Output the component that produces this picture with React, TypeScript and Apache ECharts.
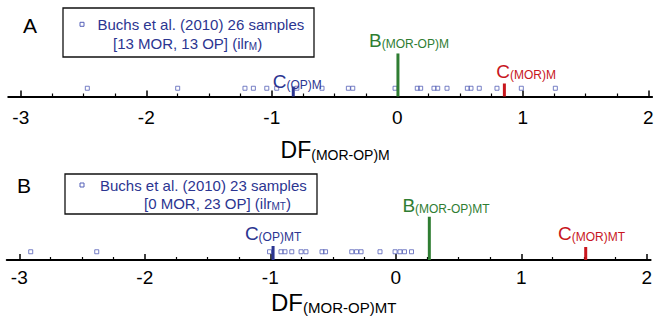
import React, { useEffect, useRef } from "react";
import * as echarts from "echarts";

const FONT = "'Liberation Sans', Arial, Helvetica, sans-serif";

// Axis range and ticks
const axisMin = -3.1;
const axisMax = 2.03;
const majorTicks = [-3, -2, -1, 0, 1, 2];
const minorTicks = [-2.75, -2.5, -2.25, -1.75, -1.5, -1.25, -0.75, -0.5, -0.25, 0.25, 0.5, 0.75, 1.25, 1.5, 1.75];

// Panel A: DF(MOR-OP)M, Buchs et al. (2010) samples
const samplesA = [-2.47, -1.75, -1.214, -1.147, -1.04, -0.961, -0.8, -0.6, -0.39, -0.355, -0.018, 0.159, 0.186, 0.292, 0.322, 0.396, 0.558, 0.587, 0.653, 0.794, 0.988, 1.259];
// centroids / boundary: C(OP)M, B(MOR-OP)M, C(MOR)M
const markersA = [-0.829, 0.005, 0.853];

// Panel B: DF(MOR-OP)MT
const samplesB = [-2.909, -2.383, -1.006, -0.915, -0.883, -0.829, -0.755, -0.716, -0.588, -0.56, -0.351, -0.313, -0.277, -0.126, -0.006, 0.033, 0.069, 0.125];
// C(OP)MT, B(MOR-OP)MT, C(MOR)MT
const markersB = [-0.978, 0.267, 1.513];

const BLUE = "#2b3591";
const POINT = "#5560b8";
const GREEN = "#2f7d32";
const RED = "#c8161d";

function markerSeries(
  gridIdx: number,
  x: number,
  h: number,
  color: string,
  main: string,
  sub: string,
  ox: number,
  oy: number
) {
  return {
    type: "line",
    xAxisIndex: gridIdx * 2,
    yAxisIndex: gridIdx,
    data: [
      [x, 0],
      {
        value: [x, h],
        label: {
          show: true,
          position: "top",
          distance: 0,
          offset: [ox, oy],
          formatter: "{m|" + main + "}{s|" + sub + "}",
          rich: {
            m: { fontSize: 19, lineHeight: 20, color, fontFamily: FONT, verticalAlign: "bottom" },
            s: { fontSize: 12, lineHeight: 11, color, fontFamily: FONT, verticalAlign: "bottom" },
          },
        },
      },
    ],
    symbol: "circle",
    symbolSize: 0.01,
    showSymbol: true,
    lineStyle: { color, width: 3, cap: "butt" },
    itemStyle: { color },
    emphasis: { disabled: true },
    silent: true,
    z: 5,
  };
}

function pointSeries(gridIdx: number, values: number[]) {
  return {
    type: "scatter",
    xAxisIndex: gridIdx * 2,
    yAxisIndex: gridIdx,
    data: values.map((v) => [v, 0.125]),
    symbol: "rect",
    symbolSize: 4,
    itemStyle: { color: "rgba(0,0,0,0)", borderColor: POINT, borderWidth: 1 },
    emphasis: { disabled: true },
    silent: true,
    z: 3,
  };
}

function mainAxis(gridIdx: number, nameSub: string, nameGap: number, labelMargin: number, nameSize: number, subSize: number) {
  return {
    gridIndex: gridIdx,
    type: "value",
    min: axisMin,
    max: axisMax,
    position: "bottom",
    axisLine: { show: true, onZero: false, lineStyle: { color: "#000", width: 2 } },
    axisTick: { show: true, inside: true, length: 6, customValues: majorTicks, lineStyle: { color: "#000", width: 1.5 } },
    axisLabel: { show: true, customValues: majorTicks, fontSize: 19, color: "#000", fontFamily: FONT, margin: labelMargin },
    splitLine: { show: false },
    name: "{a|DF}{b|" + nameSub + "}",
    nameLocation: "middle",
    nameGap,
    nameMoveOverlap: false,
    nameTextStyle: {
      padding: [0, 0, 0, 10],
      rich: {
        a: { fontSize: nameSize, lineHeight: 26, color: "#000", fontFamily: FONT, verticalAlign: "bottom" },
        b: { fontSize: subSize, lineHeight: 14, color: "#000", fontFamily: FONT, verticalAlign: "bottom" },
      },
    },
  };
}

function minorAxis(gridIdx: number) {
  return {
    gridIndex: gridIdx,
    type: "value",
    min: axisMin,
    max: axisMax,
    position: "bottom",
    offset: 0,
    axisLine: { show: false, onZero: false },
    axisTick: { show: true, inside: true, length: 3, customValues: minorTicks, lineStyle: { color: "#000", width: 1.2 } },
    axisLabel: { show: false },
    splitLine: { show: false },
  };
}

function legendGraphic(
  bx: number, by: number, bw: number, bh: number,
  mx: number, my: number,
  l1x: number, l1y: number, line1: string,
  l2x: number, l2y: number, line2: string, line2sub: string
) {
  return {
    type: "group",
    children: [
      { type: "rect", shape: { x: bx, y: by, width: bw, height: bh }, style: { fill: "transparent", stroke: "#111", lineWidth: 1.3 } },
      { type: "rect", shape: { x: mx - 2, y: my - 2, width: 4, height: 4 }, style: { fill: "transparent", stroke: POINT, lineWidth: 1 } },
      {
        type: "text",
        style: { x: l1x, y: l1y, text: line1, fontSize: 15, fontFamily: FONT, fill: BLUE, align: "left", verticalAlign: "middle" },
      },
      {
        type: "text",
        style: {
          x: l2x,
          y: l2y,
          text: "{t|" + line2 + "}{s|" + line2sub + "}{t|)}",
          align: "left",
          verticalAlign: "middle",
          rich: {
            t: { fontSize: 15, lineHeight: 16, fill: BLUE, fontFamily: FONT, verticalAlign: "bottom" },
            s: { fontSize: 10, lineHeight: 11, fill: BLUE, fontFamily: FONT, verticalAlign: "bottom" },
          },
        },
      },
    ],
  };
}

export default function App() {
  const ref = useRef<HTMLDivElement>(null);
  useEffect(() => {
    if (!ref.current) return;
    const chart = echarts.init(ref.current, null, { renderer: "svg" });
    const option = {
      animation: false,
      backgroundColor: "#ffffff",
      grid: [
        { left: 8.25, right: 5.9, top: 30.5, height: 66 },
        { left: 6.75, right: 7.4, top: 194, height: 66 },
      ],
      xAxis: [
        mainAxis(0, "(MOR-OP)M", 39, 11, 23, 14),
        minorAxis(0),
        mainAxis(1, "(MOR-OP)MT", 28.5, 8, 24, 15),
        minorAxis(1),
      ],
      yAxis: [
        { gridIndex: 0, type: "value", min: 0, max: 1, show: false },
        { gridIndex: 1, type: "value", min: 0, max: 1, show: false },
      ],
      series: [
        pointSeries(0, samplesA),
        markerSeries(0, markersA[0], 0.15, BLUE, "C", "(OP)M", 4, 4.5),
        markerSeries(0, markersA[1], 0.652, GREEN, "B", "(MOR-OP)M", 11, -3.8),
        markerSeries(0, markersA[2], 0.197, RED, "C", "(MOR)M", 21.7, -2.8),
        pointSeries(1, samplesB),
        markerSeries(1, markersB[0], 0.212, BLUE, "C", "(OP)MT", 0, -3),
        markerSeries(1, markersB[1], 0.656, GREEN, "B", "(MOR-OP)MT", 16.7, -2),
        markerSeries(1, markersB[2], 0.197, RED, "C", "(MOR)MT", 5.8, -4),
      ],
      graphic: [
        { type: "text", style: { x: 23, y: 25.7, text: "A", fontSize: 21, fontFamily: FONT, fill: "#000", align: "left", verticalAlign: "middle" } },
        { type: "text", style: { x: 17, y: 185.7, text: "B", fontSize: 21, fontFamily: FONT, fill: "#000", align: "left", verticalAlign: "middle" } },
        legendGraphic(63, 8, 251, 49, 82, 24.3, 97.5, 24.3, "Buchs et al. (2010) 26 samples", 113, 43.3, "[13 MOR, 13 OP] (ilr", "M"),
        legendGraphic(65, 174, 252, 40, 82, 185, 100, 185, "Buchs et al. (2010) 23 samples", 144, 203, "[0 MOR, 23 OP] (ilr", "MT"),
      ],
    };
    chart.setOption(option as any);
    return () => chart.dispose();
  }, []);
  return (
    <div
      ref={ref}
      style={{ position: "fixed", left: 0, top: 0, width: 658, height: 327, background: "#fff" }}
    />
  );
}
